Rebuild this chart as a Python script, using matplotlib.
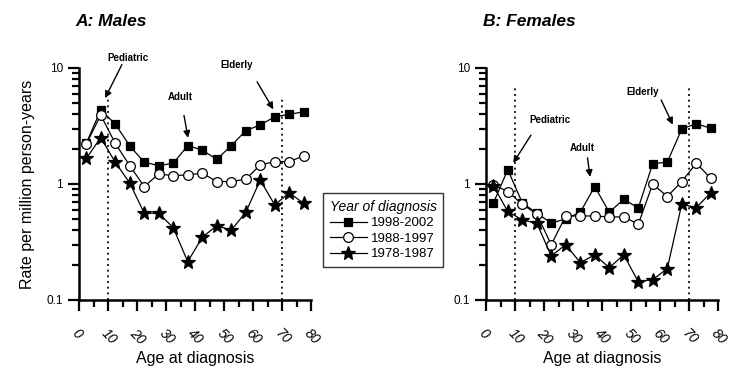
import numpy as np
import matplotlib
matplotlib.use('Agg')
import matplotlib.pyplot as plt
from matplotlib.ticker import FixedLocator, LogLocator, NullFormatter

plt.rcParams['font.family'] = ['Liberation Sans', 'DejaVu Sans']

# age group midpoints (5-year groups)
ages = [2.5, 7.5, 12.5, 17.5, 22.5, 27.5, 32.5, 37.5, 42.5, 47.5, 52.5, 57.5, 62.5, 67.5, 72.5, 77.5]
periods = ['1998-2002', '1988-1997', '1978-1987']

males_9802 = [2.24, 4.35, 3.29, 2.13, 1.54, 1.44, 1.51, 2.14, 1.96, 1.63, 2.14, 2.88, 3.23, 3.80, 3.98, 4.20]
males_8897 = [2.21, 3.93, 2.24, 1.44, 0.95, 1.22, 1.18, 1.20, 1.24, 1.05, 1.05, 1.10, 1.46, 1.56, 1.56, 1.75]
males_7887 = [1.66, 2.51, 1.54, 1.02, 0.56, 0.56, 0.42, 0.214, 0.347, 0.437, 0.40, 0.57, 1.08, 0.66, 0.84, 0.68]

females_9802 = [0.68, 1.33, 0.69, 0.56, 0.46, 0.50, 0.57, 0.95, 0.57, 0.74, 0.62, 1.50, 1.54, 2.98, 3.31, 3.02]
females_8897 = [0.99, 0.86, 0.67, 0.55, 0.30, 0.53, 0.53, 0.53, 0.52, 0.52, 0.45, 1.00, 0.78, 1.05, 1.51, 1.12]
females_7887 = [0.97, 0.58, 0.49, 0.46, 0.24, 0.30, 0.21, 0.245, 0.19, 0.245, 0.144, 0.15, 0.186, 0.67, 0.625, 0.84]

cutoffs = [10, 70]
markers = [dict(marker='s', mfc='black', ms=6),
           dict(marker='o', mfc='white', ms=7),
           dict(marker='*', mfc='black', ms=10)]

# annotations: (label, text xy, arrow tail, arrow head) in data coords
ann_males = [('Pediatric', (16.8, 12.3), (14.8, 10.7), (9.0, 5.5)),
             ('Adult', (34.8, 5.6), (36.2, 3.9), (37.6, 2.5)),
             ('Elderly', (54.5, 10.6), (61.4, 7.6), (67.0, 4.4))]
ann_females = [('Pediatric', (22.0, 3.56), (15.5, 2.64), (9.4, 1.52)),
               ('Adult', (33.3, 2.04), (35.0, 1.68), (35.9, 1.15)),
               ('Elderly', (54.0, 6.2), (60.4, 5.3), (64.4, 3.25))]

fig = plt.figure(figsize=(7.34, 3.76), dpi=100)
axA = fig.add_axes([79/734, 1-300/376, 232/734, 232/376])
axB = fig.add_axes([486/734, 1-300/376, 232/734, 232/376])


def style_axis(ax, title, series, anns, vtop):
    handles = []
    for vals, m, lab in zip(series, markers, periods):
        h, = ax.plot(ages, vals, color='black', lw=0.9, mec='black', mew=0.9,
                     label=lab, clip_on=False, zorder=3, **m)
        handles.append(h)
    ax.set_yscale('log')
    ax.set_ylim(0.1, 10)
    ax.set_xlim(0, 80)
    ax.vlines(cutoffs, 0.1, vtop, colors='black', linestyles=(0, (1.2, 2.2)), lw=1.2, zorder=1)
    for s in ['top', 'right']:
        ax.spines[s].set_visible(False)
    for s in ['left', 'bottom']:
        ax.spines[s].set_linewidth(1.8)
    ax.xaxis.set_major_locator(FixedLocator(range(0, 81, 10)))
    ax.xaxis.set_minor_locator(FixedLocator(range(5, 80, 10)))
    ax.yaxis.set_major_locator(FixedLocator([0.1, 1, 10]))
    ax.yaxis.set_minor_locator(LogLocator(base=10, subs=np.arange(2, 10)))
    ax.yaxis.set_minor_formatter(NullFormatter())
    ax.set_yticklabels(['0.1', '1', '10'])
    ax.tick_params(which='major', length=8, width=1.6, labelsize=8.5, direction='out')
    ax.tick_params(which='minor', length=5, width=1.6, direction='out')
    ax.tick_params(axis='x', which='major', pad=11)
    for t in ax.get_xticklabels():
        t.set_rotation(-45)
        t.set_ha('left')
        t.set_rotation_mode('anchor')
        t.set_fontstyle('italic')
        t.set_fontsize(10)
    ax.set_xlabel('Age at diagnosis', fontsize=11.5, labelpad=3)
    ax.text(-0.015, 1.2, title, transform=ax.transAxes, fontsize=12.5,
            fontweight='bold', fontstyle='italic', ha='left', va='center')
    for lab, txy, tail, head in anns:
        ax.text(txy[0], txy[1], lab, fontsize=7, fontweight='bold', ha='center',
                va='center', clip_on=False)
        ax.annotate('', xy=head, xytext=tail,
                    arrowprops=dict(arrowstyle='-|>', color='black', lw=1.0,
                                    mutation_scale=10, shrinkA=0, shrinkB=0),
                    annotation_clip=False)
    return handles


handles = style_axis(axA, 'A: Males', [males_9802, males_8897, males_7887], ann_males, 5.6)
style_axis(axB, 'B: Females', [females_9802, females_8897, females_7887], ann_females, 6.7)
axA.set_ylabel('Rate per million person-years', fontsize=11.5, labelpad=8)

leg = fig.legend(handles=handles, loc='upper left', bbox_to_anchor=(323/734, 1-193/376),
                 title='Year of diagnosis', fontsize=9.5, frameon=True, fancybox=False,
                 edgecolor='black', borderaxespad=0, handlelength=2.8, handletextpad=0.3,
                 borderpad=0.5, labelspacing=0.25, alignment='left',
                 title_fontproperties={'style': 'italic', 'size': 10})
leg.get_frame().set_linewidth(1.0)

fig.savefig('out.png', dpi=100)
